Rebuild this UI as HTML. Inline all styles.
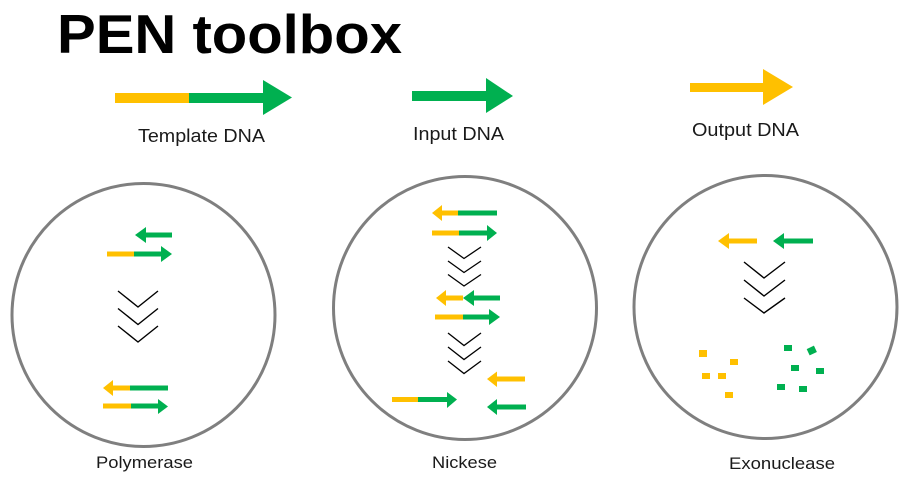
<!DOCTYPE html>
<html>
<head>
<meta charset="utf-8">
<style>
  html, body { margin: 0; padding: 0; background: #ffffff; }
  body { width: 910px; height: 492px; overflow: hidden; }
  svg { display: block; }
  text { font-family: "Liberation Sans", "DejaVu Sans", sans-serif; fill: #1a1a1a; }
</style>
</head>
<body>
<svg width="910" height="492" viewBox="0 0 910 492" xmlns="http://www.w3.org/2000/svg">
  <!-- Title -->
  <text x="57" y="53" font-size="55" font-weight="bold" style="fill:#000" textLength="345" lengthAdjust="spacingAndGlyphs">PEN toolbox</text>

  <!-- Top legend arrows -->
  <!-- Template DNA -->
  <rect x="115" y="93" width="74" height="10" fill="#FFC000"/>
  <rect x="189" y="93" width="75" height="10" fill="#00B050"/>
  <polygon points="263,80 263,115 292,97.5" fill="#00B050"/>
  <text x="138" y="142" font-size="18" textLength="127" lengthAdjust="spacingAndGlyphs">Template DNA</text>

  <!-- Input DNA -->
  <rect x="412" y="91" width="75" height="10" fill="#00B050"/>
  <polygon points="486,78 486,113 513,96" fill="#00B050"/>
  <text x="413" y="140" font-size="18" textLength="91" lengthAdjust="spacingAndGlyphs">Input DNA</text>

  <!-- Output DNA -->
  <rect x="690" y="83" width="74" height="9" fill="#FFC000"/>
  <polygon points="763,69 763,105 793,87" fill="#FFC000"/>
  <text x="692" y="136" font-size="18" textLength="107" lengthAdjust="spacingAndGlyphs">Output DNA</text>

  <!-- Circles -->
  <circle cx="143.5" cy="315" r="131.5" fill="none" stroke="#7f7f7f" stroke-width="3"/>
  <circle cx="465" cy="308" r="131.5" fill="none" stroke="#7f7f7f" stroke-width="3"/>
  <circle cx="765.5" cy="307" r="131.5" fill="none" stroke="#7f7f7f" stroke-width="3"/>

  <!-- ===== Polymerase ===== -->
  <!-- green left arrow -->
  <polygon points="135,235 146,227 146,243" fill="#00B050"/>
  <rect x="145" y="232.5" width="27" height="5" fill="#00B050"/>
  <!-- yellow+green right arrow -->
  <rect x="107" y="251.5" width="27" height="5" fill="#FFC000"/>
  <rect x="134" y="251.5" width="28" height="5" fill="#00B050"/>
  <polygon points="161,246 161,262 172,254" fill="#00B050"/>
  <!-- chevrons -->
  <g fill="none" stroke="#000" stroke-width="1.4">
    <polyline points="118,291 138,307 158,291"/>
    <polyline points="118,308.5 138,324.5 158,308.5"/>
    <polyline points="118,326 138,342 158,326"/>
  </g>
  <!-- bottom row 1 -->
  <polygon points="103,388 113,380 113,396" fill="#FFC000"/>
  <rect x="112" y="385.5" width="18" height="5" fill="#FFC000"/>
  <rect x="130" y="385.5" width="38" height="5" fill="#00B050"/>
  <!-- bottom row 2 -->
  <rect x="103" y="403.5" width="28" height="5" fill="#FFC000"/>
  <rect x="131" y="403.5" width="28" height="5" fill="#00B050"/>
  <polygon points="158,399 158,414 168,406.5" fill="#00B050"/>
  <text x="96" y="468" font-size="17" textLength="97" lengthAdjust="spacingAndGlyphs">Polymerase</text>

  <!-- ===== Nickese ===== -->
  <!-- r1 -->
  <polygon points="432,213 442,205 442,221" fill="#FFC000"/>
  <rect x="441" y="210.5" width="17" height="5" fill="#FFC000"/>
  <rect x="458" y="210.5" width="39" height="5" fill="#00B050"/>
  <!-- r2 -->
  <rect x="432" y="230.5" width="27" height="5" fill="#FFC000"/>
  <rect x="459" y="230.5" width="29" height="5" fill="#00B050"/>
  <polygon points="487,225 487,241 497,233" fill="#00B050"/>
  <!-- chevrons 1 -->
  <g fill="none" stroke="#000" stroke-width="1.3">
    <polyline points="448,247 464,258.5 481,247"/>
    <polyline points="448,261 464,272.5 481,261"/>
    <polyline points="448,274.5 464,286 481,274.5"/>
  </g>
  <!-- r3 -->
  <polygon points="436,298 446,290 446,306" fill="#FFC000"/>
  <rect x="445" y="295.5" width="18" height="5" fill="#FFC000"/>
  <polygon points="463,298 474,290 474,306" fill="#00B050"/>
  <rect x="473" y="295.5" width="27" height="5" fill="#00B050"/>
  <!-- r4 -->
  <rect x="435" y="314.5" width="28" height="5" fill="#FFC000"/>
  <rect x="463" y="314.5" width="27" height="5" fill="#00B050"/>
  <polygon points="489,309 489,325 500,317" fill="#00B050"/>
  <!-- chevrons 2 -->
  <g fill="none" stroke="#000" stroke-width="1.3">
    <polyline points="448,333 464,345.5 481,333"/>
    <polyline points="448,347 464,359.5 481,347"/>
    <polyline points="448,361 464,373.5 481,361"/>
  </g>
  <!-- yellow left -->
  <polygon points="487,379 497,371.5 497,387" fill="#FFC000"/>
  <rect x="496" y="376.5" width="29" height="5" fill="#FFC000"/>
  <!-- yellow+green right -->
  <rect x="392" y="397" width="26" height="5" fill="#FFC000"/>
  <rect x="418" y="397" width="30" height="5" fill="#00B050"/>
  <polygon points="447,392 447,408 457,399.5" fill="#00B050"/>
  <!-- green left -->
  <polygon points="487,407 497,399 497,415" fill="#00B050"/>
  <rect x="496" y="404.5" width="30" height="5" fill="#00B050"/>
  <text x="432" y="468" font-size="17" textLength="65" lengthAdjust="spacingAndGlyphs">Nickese</text>

  <!-- ===== Exonuclease ===== -->
  <polygon points="718,241 729,233 729,249" fill="#FFC000"/>
  <rect x="728" y="238.5" width="29" height="5" fill="#FFC000"/>
  <polygon points="773,241 784,233 784,249" fill="#00B050"/>
  <rect x="783" y="238.5" width="30" height="5" fill="#00B050"/>
  <g fill="none" stroke="#000" stroke-width="1.4">
    <polyline points="744,262 764,278 785,262"/>
    <polyline points="744,280 764,296 785,280"/>
    <polyline points="744,298 764,313 785,298"/>
  </g>
  <!-- yellow fragments -->
  <g fill="#FFC000">
    <rect x="699" y="350" width="8" height="7"/>
    <rect x="730" y="359" width="8" height="6"/>
    <rect x="702" y="373" width="8" height="6"/>
    <rect x="718" y="373" width="8" height="6"/>
    <rect x="725" y="392" width="8" height="6"/>
  </g>
  <!-- green fragments -->
  <g fill="#00B050">
    <rect x="784" y="345" width="8" height="6"/>
    <rect x="808" y="347" width="8" height="7" transform="rotate(-25 812 351)"/>
    <rect x="791" y="365" width="8" height="6"/>
    <rect x="816" y="368" width="8" height="6"/>
    <rect x="777" y="384" width="8" height="6"/>
    <rect x="799" y="386" width="8" height="6"/>
  </g>
  <text x="729" y="469" font-size="17" textLength="106" lengthAdjust="spacingAndGlyphs">Exonuclease</text>
</svg>
</body>
</html>
